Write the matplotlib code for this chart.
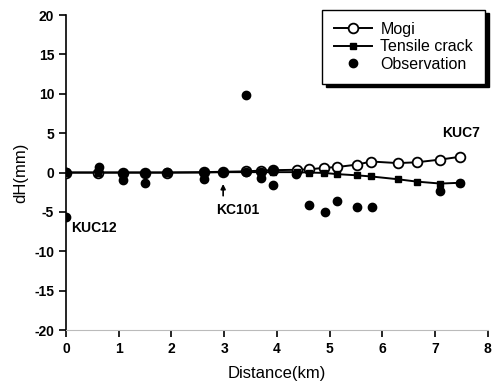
import matplotlib
matplotlib.use('Agg')
import matplotlib.pyplot as plt

plt.rcParams['font.family'] = ['Liberation Sans', 'DejaVu Sans']
plt.rcParams['axes.unicode_minus'] = False

# model curves (same stations for both)
model_x = [0, 0.6, 1.09, 1.5, 1.91, 2.62, 2.98, 3.41, 3.7, 3.92,
           4.38, 4.6, 4.9, 5.14, 5.51, 5.79, 6.29, 6.65, 7.1, 7.47]
mogi_y = [0, 0, 0, 0, 0, 0.05, 0.1, 0.15, 0.25, 0.3,
          0.35, 0.4, 0.6, 0.7, 1.0, 1.4, 1.2, 1.3, 1.65, 2.0]
tensile_y = [0, 0, 0, 0, 0, 0, 0.05, 0.05, 0.05, 0.05,
             0.05, 0, -0.05, -0.2, -0.35, -0.5, -0.85, -1.15, -1.4, -1.3]

# observed
obs_x = [0, 0, 0.62, 1.09, 1.09, 1.5, 1.5, 1.91, 2.62, 2.62, 2.98, 3.41, 3.41,
         3.7, 3.7, 3.92, 3.92, 4.37, 4.61, 4.91, 5.14, 5.51, 5.81, 7.1, 7.47]
obs_y = [0.1, -5.6, 0.7, 0, -0.9, 0, -1.35, 0.1, 0.1, -0.85, 0.1, 0.1, 9.85,
         0.1, -0.7, 0.3, -1.6, -0.2, -4.1, -4.95, -3.6, -4.4, -4.4, -2.3, -1.3]

fig = plt.figure(figsize=(4.94, 3.86), dpi=100)
ax = fig.add_axes([0.1336, 0.145, 0.854, 0.816])

ax.plot(model_x, mogi_y, '-o', color='black', lw=1.4, ms=7, mfc='white',
        mec='black', mew=1.3, label='Mogi', zorder=3)
ax.plot(model_x, tensile_y, '-s', color='black', lw=1.4, ms=5,
        label='Tensile crack', zorder=3)
ax.plot(obs_x, obs_y, 'o', color='black', ms=6, ls='none',
        label='Observation', zorder=4)

ax.set_xlim(0, 8)
ax.set_ylim(-20, 20)
ax.set_xticks(range(0, 9))
ax.set_yticks(range(-20, 21, 5))
for s in ['top', 'right']:
    ax.spines[s].set_visible(False)
ax.spines['bottom'].set_color('#bbbbbb')
ax.spines['bottom'].set_linewidth(0.8)
ax.spines['left'].set_linewidth(1.2)
ax.tick_params(direction='out', length=5, width=1.2, labelsize=10)
for lab in ax.get_xticklabels() + ax.get_yticklabels():
    lab.set_fontweight('bold')

ax.set_xlabel('Distance(km)', fontsize=12, labelpad=7)
ax.set_ylabel('dH(mm)', fontsize=12, labelpad=4)

ax.text(0.09, -7.1, 'KUC12', fontsize=10, fontweight='bold', va='center')
ax.text(7.14, 5.05, 'KUC7', fontsize=10, fontweight='bold', va='center')
ax.text(2.84, -4.75, 'KC101', fontsize=10, fontweight='bold', va='center')
ax.annotate('', xy=(2.98, -1.1), xytext=(2.98, -3.3),
            arrowprops=dict(arrowstyle='-|>', color='black', lw=1.2,
                            mutation_scale=7))

leg = ax.legend(loc='upper left', bbox_to_anchor=(0.607, 1.016),
                fontsize=11.5, frameon=True, fancybox=False,
                shadow={'color': 'black', 'alpha': 1, 'ox': 2.5, 'oy': -2.5},
                handlelength=2.4, handletextpad=0.5, labelspacing=0.15,
                borderpad=0.75, borderaxespad=0)
leg.get_frame().set_edgecolor('black')
leg.get_frame().set_linewidth(1.0)

fig.savefig('out.png', dpi=100)
